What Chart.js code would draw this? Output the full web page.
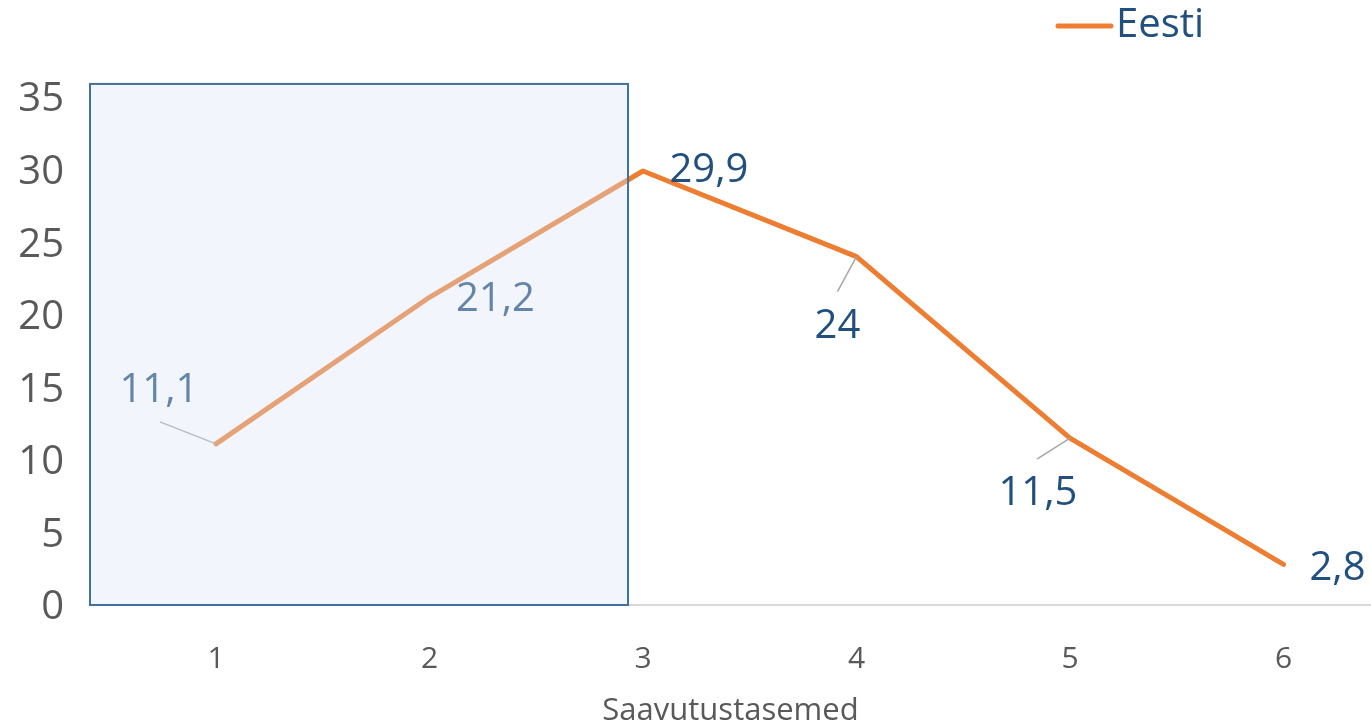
<!DOCTYPE html>
<html>
<head>
<meta charset="utf-8">
<script src="https://cdn.jsdelivr.net/npm/chart.js@4/dist/chart.umd.min.js"></script>
<style>
html,body{margin:0;padding:0;background:#fff;}
#wrap{width:1371px;height:727px;}
</style>
</head>
<body>
<div id="wrap"><canvas id="c"></canvas></div>
<script>
// ---- data ----
const categories = ['1', '2', '3', '4', '5', '6'];
const seriesName = 'Eesti';
const values = [11.1, 21.2, 29.9, 24, 11.5, 2.8];
const valueLabels = ['11,1', '21,2', '29,9', '24', '11,5', '2,8'];
const yTicks = [0, 5, 10, 15, 20, 25, 30, 35];
const xTitle = 'Saavutustasemed';
// highlighted region (data units): from plot start up to just before level 3
const shadeX = [0.41, 2.93];
const shadeY = [0, 35.9];

// label offsets relative to the point (pixels) and leader line endpoints
const labelOffsets = [
  {dx: -57, dy: -53, leader: [-56, -22]},
  {dx: 66, dy: 2, leader: null},
  {dx: 66, dy: 0, leader: null},
  {dx: -19, dy: 70, leader: [-19, 35]},
  {dx: -32, dy: 56, leader: [-33, 21]},
  {dx: 54, dy: 4, leader: null}
];

const ORANGE = '#ED7D31';
const NAVY = '#22507E';
const GREY = '#595959';
const FONT = '"Open Sans", "Liberation Sans", sans-serif';

const points = values.map((v, i) => ({x: i + 1, y: v}));

const labelsPlugin = {
  id: 'valueLabels',
  afterDatasetsDraw(chart) {
    const ctx = chart.ctx;
    const meta = chart.getDatasetMeta(0);
    ctx.save();
    meta.data.forEach((pt, i) => {
      const o = labelOffsets[i];
      if (o.leader) {
        ctx.strokeStyle = '#A6A6A6';
        ctx.lineWidth = 1.5;
        ctx.beginPath();
        ctx.moveTo(pt.x, pt.y);
        ctx.lineTo(pt.x + o.leader[0], pt.y + o.leader[1]);
        ctx.stroke();
      }
      ctx.fillStyle = NAVY;
      ctx.font = '40px ' + FONT;
      ctx.textAlign = 'center';
      ctx.textBaseline = 'middle';
      ctx.fillText(valueLabels[i], pt.x + o.dx, pt.y + o.dy);
    });
    ctx.restore();
  }
};

const shadePlugin = {
  id: 'shade',
  afterDraw(chart) {
    const ctx = chart.ctx;
    const xs = chart.scales.x, ys = chart.scales.y;
    const x0 = xs.getPixelForValue(shadeX[0]);
    const x1 = xs.getPixelForValue(shadeX[1]);
    const y0 = ys.getPixelForValue(shadeY[1]);
    const y1 = ys.getPixelForValue(shadeY[0]);
    ctx.save();
    ctx.fillStyle = 'rgba(218,228,244,0.36)';
    ctx.fillRect(x0, y0, x1 - x0, y1 - y0);
    ctx.strokeStyle = '#41719C';
    ctx.lineWidth = 2;
    ctx.strokeRect(x0, y0, x1 - x0, y1 - y0);
    ctx.restore();
  }
};

const legendPlugin = {
  id: 'customLegend',
  afterDraw(chart) {
    const ctx = chart.ctx;
    ctx.save();
    ctx.strokeStyle = ORANGE;
    ctx.lineWidth = 5;
    ctx.lineCap = 'round';
    ctx.beginPath();
    ctx.moveTo(1058, 26);
    ctx.lineTo(1111, 26);
    ctx.stroke();
    ctx.fillStyle = NAVY;
    ctx.font = '40px ' + FONT;
    ctx.textAlign = 'left';
    ctx.textBaseline = 'middle';
    ctx.fillText(seriesName, 1116, 26);
    ctx.restore();
  }
};

new Chart(document.getElementById('c'), {
  type: 'line',
  data: {
    datasets: [{
      label: seriesName,
      data: points,
      borderColor: ORANGE,
      backgroundColor: ORANGE,
      borderWidth: 5,
      borderJoinStyle: 'round',
      borderCapStyle: 'round',
      pointRadius: 0,
      tension: 0
    }]
  },
  options: {
    responsive: true,
    maintainAspectRatio: false,
    animation: false,
    layout: {padding: {top: 97, right: 0, left: 0, bottom: 0}},
    plugins: {legend: {display: false}, tooltip: {enabled: false}},
    scales: {
      x: {
        type: 'linear',
        min: 0.41,
        max: 6.41,
        afterBuildTicks(scale) { scale.ticks = categories.map((c, i) => ({value: i + 1})); },
        afterFit(scale) { scale.height = 122; },
        grid: {display: false, drawTicks: false},
        border: {display: true, color: '#D9D9D9', width: 2},
        ticks: {
          callback: (v) => categories[v - 1],
          color: GREY,
          font: {family: FONT, size: 30},
          padding: 36,
          maxRotation: 0,
          autoSkip: false
        },
        title: {
          display: true,
          text: xTitle,
          color: GREY,
          font: {family: FONT, size: 31, lineHeight: 1},
          padding: {top: 0, bottom: 0}
        }
      },
      y: {
        min: 0,
        max: 35,
        afterBuildTicks(scale) { scale.ticks = yTicks.map(v => ({value: v})); },
        afterFit(scale) { scale.width = 90; },
        grid: {display: false, drawTicks: false},
        border: {display: false},
        ticks: {
          color: GREY,
          font: {family: FONT, size: 40},
          padding: 26,
          labelOffset: 3
        }
      }
    }
  },
  plugins: [labelsPlugin, shadePlugin, legendPlugin]
});
</script>
</body>
</html>
